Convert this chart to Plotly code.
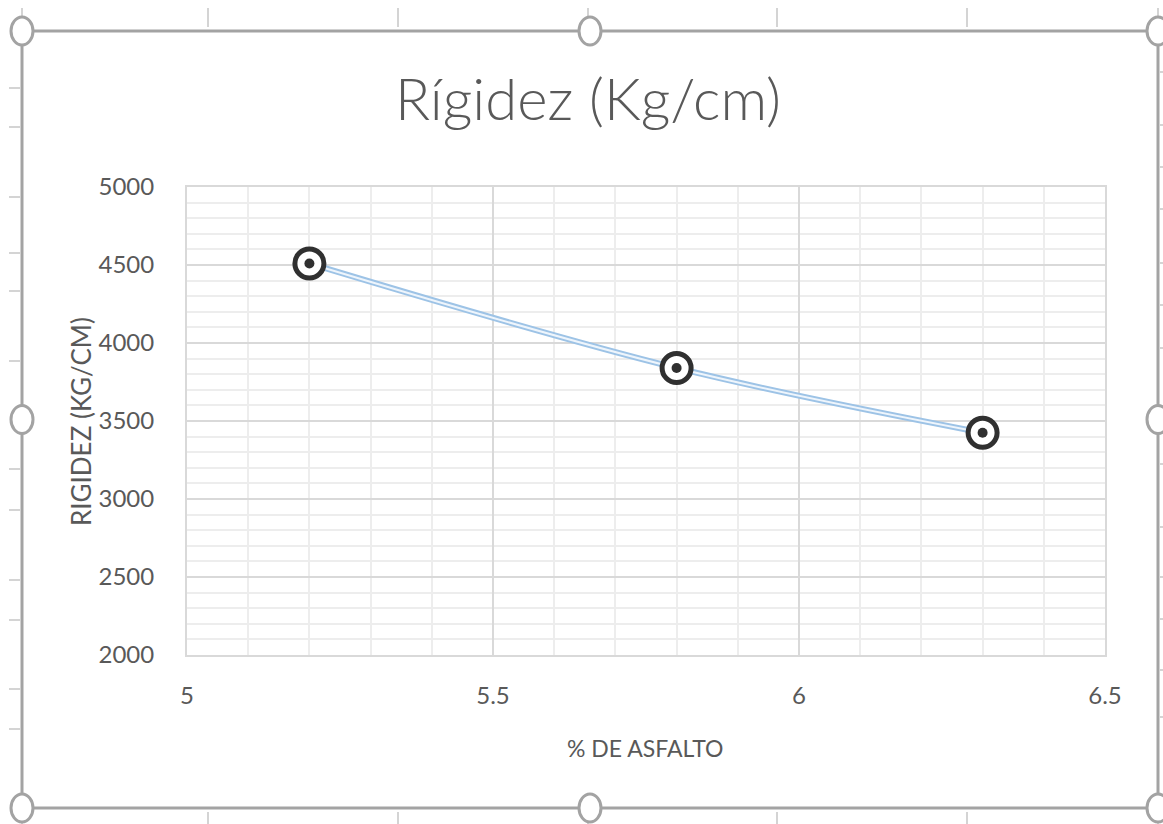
import plotly.graph_objects as go

W, H = 1163, 824

# ---- data ----
asfalto = [5.2, 5.8, 6.3]
rigidez = [4510, 3840, 3425]
x_ticks = [5, 5.5, 6, 6.5]
y_ticks = [2000, 2500, 3000, 3500, 4000, 4500, 5000]

title_text = "Rígidez (Kg/cm)"
x_title = "% DE ASFALTO"
y_title = "RIGIDEZ (KG/CM)"

FONT = "Lato, Roboto, sans-serif"
TXT = "#595959"


def px(x):
    return x / W


def py(y):
    return 1 - y / H


fig = go.Figure()

# double line (outer blue, inner white)
fig.add_trace(go.Scatter(x=asfalto, y=rigidez, mode="lines",
                         line=dict(color="#9dc3e6", width=6, shape="spline", smoothing=1),
                         hoverinfo="skip", showlegend=False))
fig.add_trace(go.Scatter(x=asfalto, y=rigidez, mode="lines",
                         line=dict(color="#eef5fc", width=2, shape="spline", smoothing=1),
                         hoverinfo="skip", showlegend=False))
# ring markers
fig.add_trace(go.Scatter(x=asfalto, y=rigidez, mode="markers",
                         marker=dict(symbol="circle", size=29, color="white",
                                     line=dict(color="#303030", width=5)),
                         showlegend=False))
fig.add_trace(go.Scatter(x=asfalto, y=rigidez, mode="markers",
                         marker=dict(symbol="circle", size=10, color="#303030",
                                     line=dict(width=0)),
                         hoverinfo="skip", showlegend=False))

x0, x1 = 187, 1105
y0, y1 = 187, 655

fig.update_layout(
    width=W, height=H,
    margin=dict(l=0, r=0, t=0, b=0, autoexpand=False),
    paper_bgcolor="white", plot_bgcolor="white",
    font=dict(family=FONT, color=TXT),
    title=dict(text=title_text, x=px(588), xanchor="center", y=py(100), yanchor="middle",
               font=dict(family=FONT, size=58, color=TXT, weight=300)),
    xaxis=dict(domain=[px(x0), px(x1)], range=[5, 6.5], tickvals=x_ticks,
               automargin=False,
               showgrid=True, gridcolor="#d9d9d9", gridwidth=2,
               minor=dict(dtick=0.1, showgrid=True, gridcolor="#ededed", gridwidth=2),
               showline=True, mirror=True, linecolor="#d9d9d9", linewidth=2,
               zeroline=False, ticks="", tickfont=dict(size=24, color=TXT),
               ticklabelstandoff=18),
    yaxis=dict(domain=[py(y1), py(y0)], range=[2000, 5000], tickvals=y_ticks,
               automargin=False,
               showgrid=True, gridcolor="#d9d9d9", gridwidth=2,
               minor=dict(dtick=100, showgrid=True, gridcolor="#ededed", gridwidth=2),
               showline=True, mirror=True, linecolor="#d9d9d9", linewidth=2,
               zeroline=False, ticks="", tickfont=dict(size=24, color=TXT),
               ticklabelstandoff=26),
)

fig.add_annotation(text=x_title, xref="paper", yref="paper", x=px(645), y=py(748),
                   xanchor="center", yanchor="middle", showarrow=False,
                   font=dict(family=FONT, size=23, color=TXT))
fig.add_annotation(text=y_title, xref="paper", yref="paper", x=px(81), y=py(422),
                   xanchor="center", yanchor="middle", showarrow=False, textangle=-90,
                   font=dict(family=FONT, size=26, color=TXT))

# ---- spreadsheet decoration: cell ticks and selection frame ----
shapes = []
tick_col = "#d4d4d4"
for cx in [22, 208, 398, 588, 777, 967, 1158]:
    shapes.append(dict(type="line", xref="paper", yref="paper",
                       x0=px(cx), x1=px(cx), y0=py(8), y1=py(27),
                       line=dict(color=tick_col, width=2)))
    shapes.append(dict(type="line", xref="paper", yref="paper",
                       x0=px(cx), x1=px(cx), y0=py(812), y1=py(824),
                       line=dict(color=tick_col, width=2)))
for cy in [88, 127, 197, 253, 291, 361, 469, 510, 580, 620, 689, 729]:
    shapes.append(dict(type="line", xref="paper", yref="paper",
                       x0=px(9), x1=px(20), y0=py(cy), y1=py(cy),
                       line=dict(color=tick_col, width=2)))
for cy in [72, 125, 167, 209, 263, 305, 348, 464, 527, 577, 619, 670, 717]:
    shapes.append(dict(type="line", xref="paper", yref="paper",
                       x0=px(1160), x1=px(1163), y0=py(cy), y1=py(cy),
                       line=dict(color=tick_col, width=2)))

frame_col = "#a3a3a3"
fl, fr, ft, fb = 22, 1158, 31, 808
shapes.append(dict(type="rect", xref="paper", yref="paper",
                   x0=px(fl), x1=px(fr), y0=py(fb), y1=py(ft),
                   line=dict(color=frame_col, width=3), fillcolor="rgba(0,0,0,0)"))
hx = [fl, (fl + fr) / 2, fr]
hy = [ft, (ft + fb) / 2, fb]
for i, cx in enumerate(hx):
    for j, cy in enumerate(hy):
        if i == 1 and j == 1:
            continue
        shapes.append(dict(type="circle", xref="paper", yref="paper",
                           x0=px(cx - 11), x1=px(cx + 11), y0=py(cy + 14), y1=py(cy - 14),
                           line=dict(color=frame_col, width=3), fillcolor="white"))

fig.update_layout(shapes=shapes)

fig.write_html("out.html")
